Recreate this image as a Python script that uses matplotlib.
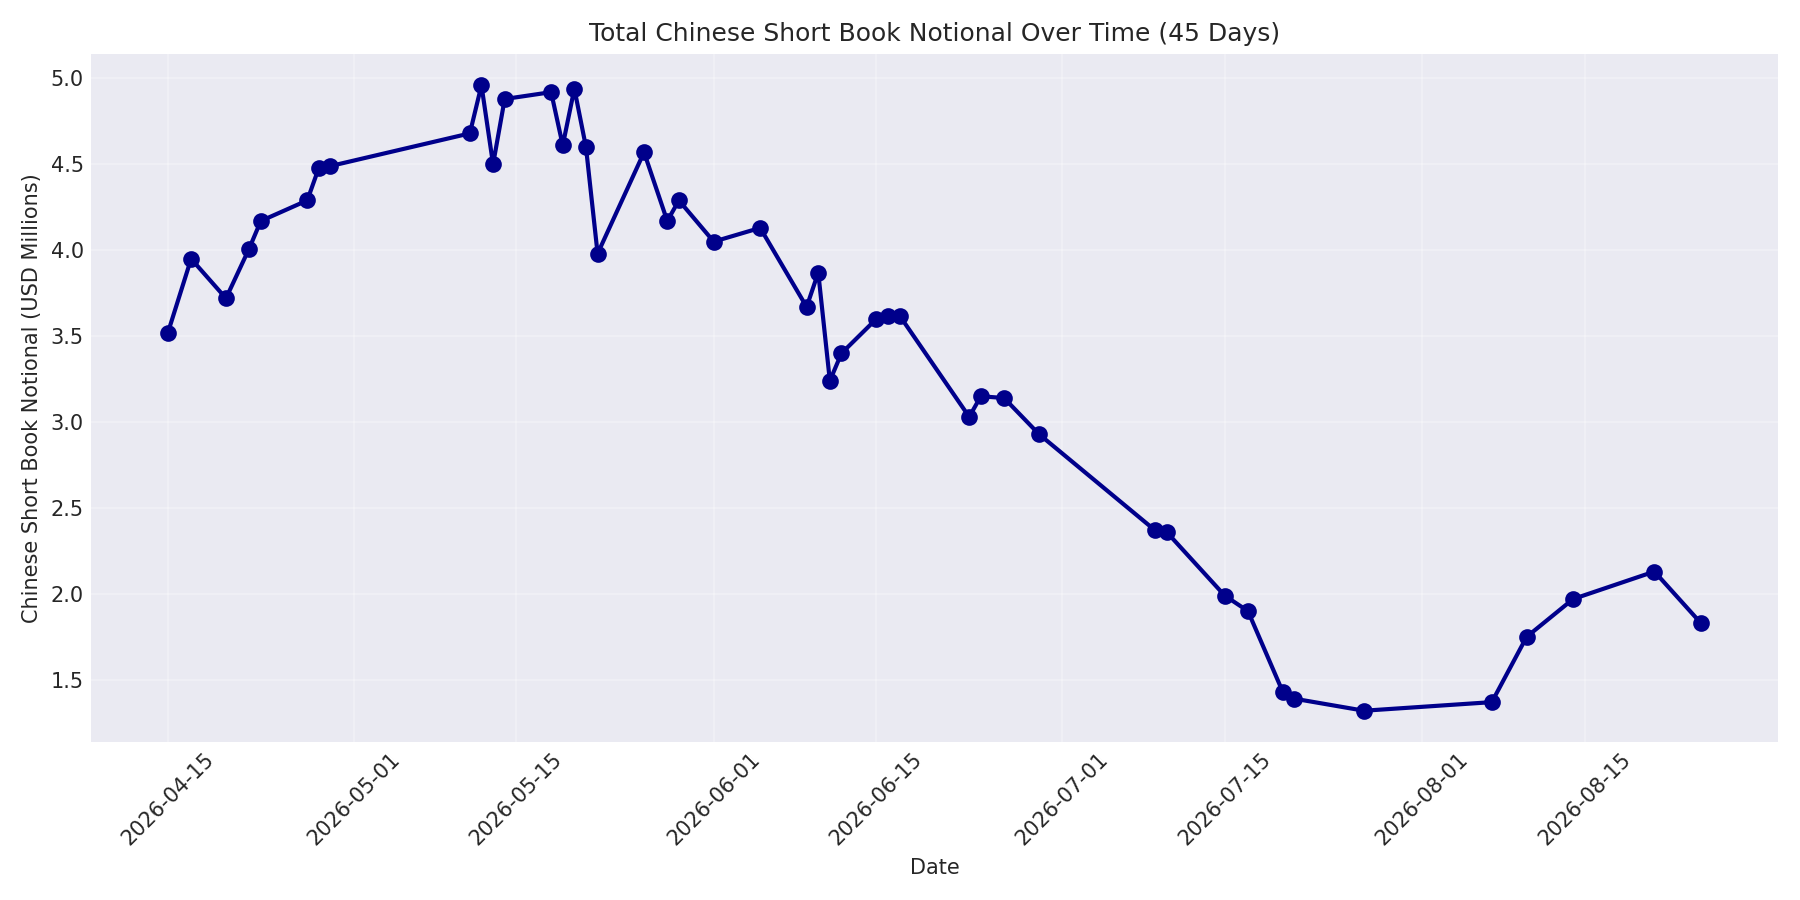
import matplotlib
matplotlib.use("Agg")
import matplotlib.pyplot as plt
import pandas as pd

dates = ["2026-04-15", "2026-04-17", "2026-04-20", "2026-04-22", "2026-04-23",
         "2026-04-27", "2026-04-28", "2026-04-29", "2026-05-11", "2026-05-12",
         "2026-05-13", "2026-05-14", "2026-05-18", "2026-05-19", "2026-05-20",
         "2026-05-21", "2026-05-22", "2026-05-26", "2026-05-28", "2026-05-29",
         "2026-06-01", "2026-06-05", "2026-06-09", "2026-06-10", "2026-06-11",
         "2026-06-12", "2026-06-15", "2026-06-16", "2026-06-17", "2026-06-23",
         "2026-06-24", "2026-06-26", "2026-06-29", "2026-07-09", "2026-07-10",
         "2026-07-15", "2026-07-17", "2026-07-20", "2026-07-21", "2026-07-27",
         "2026-08-07", "2026-08-10", "2026-08-14", "2026-08-21", "2026-08-25"]
notional = [3.52, 3.95, 3.72, 4.01, 4.17,
            4.29, 4.48, 4.49, 4.68, 4.96,
            4.50, 4.88, 4.92, 4.61, 4.94,
            4.60, 3.98, 4.57, 4.17, 4.29,
            4.05, 4.13, 3.67, 3.87, 3.24,
            3.40, 3.60, 3.62, 3.62, 3.03,
            3.15, 3.14, 2.93, 2.37, 2.36,
            1.99, 1.90, 1.43, 1.39, 1.32,
            1.37, 1.75, 1.97, 2.13, 1.83]

plt.style.use("seaborn-v0_8-darkgrid")
plt.rcParams["font.family"] = ["DejaVu Sans"]
fig, ax = plt.subplots(figsize=(12, 6), dpi=150)
x = pd.to_datetime(dates)
ax.plot(x, notional, color="darkblue", linewidth=2, marker="o", markersize=7)
ax.set_title("Total Chinese Short Book Notional Over Time (45 Days)", fontsize=12)
ax.set_xlabel("Date", fontsize=10)
ax.set_ylabel("Chinese Short Book Notional (USD Millions)", fontsize=10)
ax.grid(True, alpha=0.3)
plt.setp(ax.get_xticklabels(), rotation=45)
ax.tick_params(labelsize=10)
fig.tight_layout()
fig.savefig("out.png", dpi=150)
